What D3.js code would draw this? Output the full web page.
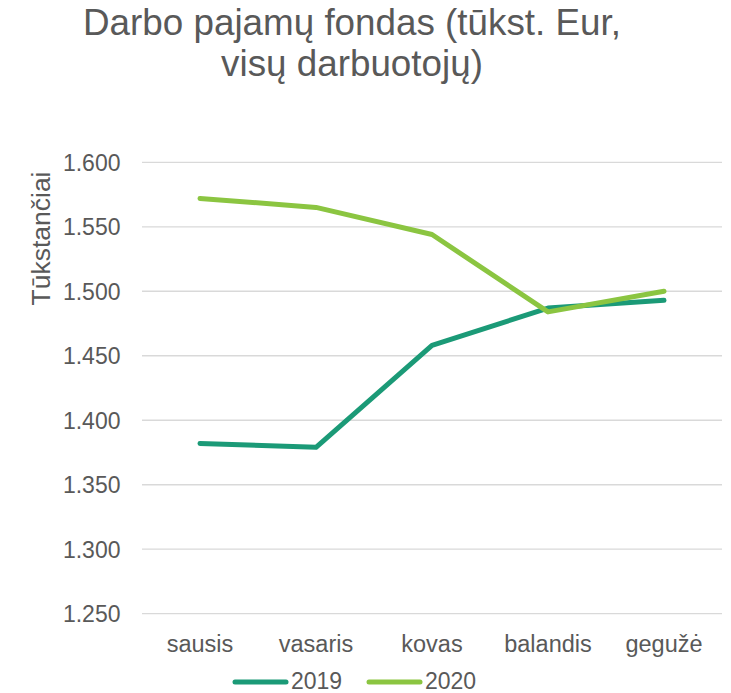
<!DOCTYPE html>
<html>
<head>
<meta charset="utf-8">
<script src="https://d3js.org/d3.v7.min.js"></script>
<style>
  body { margin: 0; background: #fff; }
  text { font-family: "Liberation Sans", Arial, sans-serif; fill: #595959; }
</style>
</head>
<body>
<div id="container"></div>
<script>
var months = ["sausis", "vasaris", "kovas", "balandis", "gegužė"];
var values2019 = [1382, 1379, 1458, 1487, 1493];
var values2020 = [1572, 1565, 1544, 1484, 1500];
var yTicks = [1250, 1300, 1350, 1400, 1450, 1500, 1550, 1600];
var seriesNames = ["2019", "2020"];
var colors = ["#1b9a77", "#8bc541"];

var width = 731, height = 693;
var plotLeft = 142, plotRight = 722, plotTop = 162.3, plotBottom = 613.7;

var svg = d3.select("#container").append("svg")
    .attr("width", width)
    .attr("height", height);

// title
var title = svg.append("text")
    .attr("text-anchor", "middle")
    .attr("font-size", 36.8);
title.append("tspan").attr("x", 352).attr("y", 35).text("Darbo pajamų fondas (tūkst. Eur,");
title.append("tspan").attr("x", 352).attr("y", 76).text("visų darbuotojų)");

var y = d3.scaleLinear().domain([1250, 1600]).range([plotBottom, plotTop]);
var x = d3.scaleBand().domain(months).range([plotLeft, plotRight]);

// gridlines
svg.append("g")
  .selectAll("line")
  .data(yTicks)
  .enter().append("line")
    .attr("x1", plotLeft).attr("x2", plotRight)
    .attr("y1", function(d) { return y(d); })
    .attr("y2", function(d) { return y(d); })
    .attr("stroke", "#d9d9d9")
    .attr("stroke-width", 1.3);

// y tick labels
var fmt = function(d) { return d3.format(".3f")(d / 1000); };
svg.append("g")
  .selectAll("text")
  .data(yTicks)
  .enter().append("text")
    .attr("x", 120.5)
    .attr("y", function(d) { return y(d) + 8.4; })
    .attr("text-anchor", "end")
    .attr("font-size", 23)
    .text(fmt);

// x labels
svg.append("g")
  .selectAll("text")
  .data(months)
  .enter().append("text")
    .attr("x", function(d) { return x(d) + x.bandwidth() / 2; })
    .attr("y", 651.5)
    .attr("text-anchor", "middle")
    .attr("font-size", 23.5)
    .text(function(d) { return d; });

// axis title
svg.append("text")
    .attr("transform", "translate(50,238.5) rotate(-90)")
    .attr("text-anchor", "middle")
    .attr("font-size", 26.5)
    .text("Tūkstančiai");

var line = d3.line()
    .x(function(d, i) { return x(months[i]) + x.bandwidth() / 2; })
    .y(function(d) { return y(d); });

[values2019, values2020].forEach(function(vals, i) {
  svg.append("path")
    .datum(vals)
    .attr("d", line)
    .attr("fill", "none")
    .attr("stroke", colors[i])
    .attr("stroke-width", 5)
    .attr("stroke-linecap", "round")
    .attr("stroke-linejoin", "round");
});

// legend
var legend = svg.append("g");
seriesNames.forEach(function(name, i) {
  var lx = 235 + i * 134;
  legend.append("line")
    .attr("x1", lx).attr("x2", lx + 51)
    .attr("y1", 682).attr("y2", 682)
    .attr("stroke", colors[i])
    .attr("stroke-width", 5)
    .attr("stroke-linecap", "round");
  legend.append("text")
    .attr("x", lx + 56)
    .attr("y", 689)
    .attr("font-size", 23)
    .text(name);
});
</script>
</body>
</html>
